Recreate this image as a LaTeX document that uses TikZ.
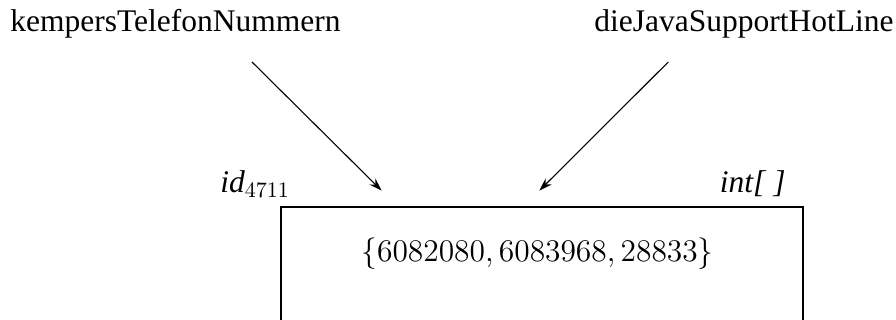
\RequirePackage{fix-cm}
\documentclass[tikz,border=0pt]{standalone}
\usepackage[no-math]{fontspec}
\setmainfont{Liberation Serif}
\usetikzlibrary{arrows.meta}
\begin{document}
\begin{tikzpicture}[x=0.5pt,y=-0.5pt,
  lbl/.style={inner sep=0pt,font=\fontsize{15.75}{19}\selectfont},
  ptr/.style={line width=0.55pt,-{Stealth[length=6.5pt,width=4.2pt]}},
  objbox/.style={draw,line width=1.35pt,minimum width=261pt,minimum height=80pt,inner sep=0pt}]
\useasboundingbox (0,0) rectangle (896,320);
\clip (0,0) rectangle (896,320);
\node[lbl,anchor=base west] (k) at (10,32) {kempersTelefonNummern};
\node[lbl,anchor=base west] (d) at (594,32) {dieJavaSupportHotLine};
\node[lbl,anchor=base west] (id) at (220,193) {\itshape id$_{4711}$};
\node[lbl,anchor=base east] (ty) at (786,193) {\itshape int[ ]};
\node[objbox,anchor=north] (box) at (542,205.7) {};
\node[lbl,anchor=base] (val) at (537.5,262) {$\{6082080, 6083968, 28833\}$};
\coordinate (ks) at (252,62);
\coordinate (kt) at (381.7,190.7);
\coordinate (ds) at (668.3,62);
\coordinate (dt) at (539.3,190.7);
\draw[ptr] (ks) -- (kt);
\draw[ptr] (ds) -- (dt);
\end{tikzpicture}
\end{document}
